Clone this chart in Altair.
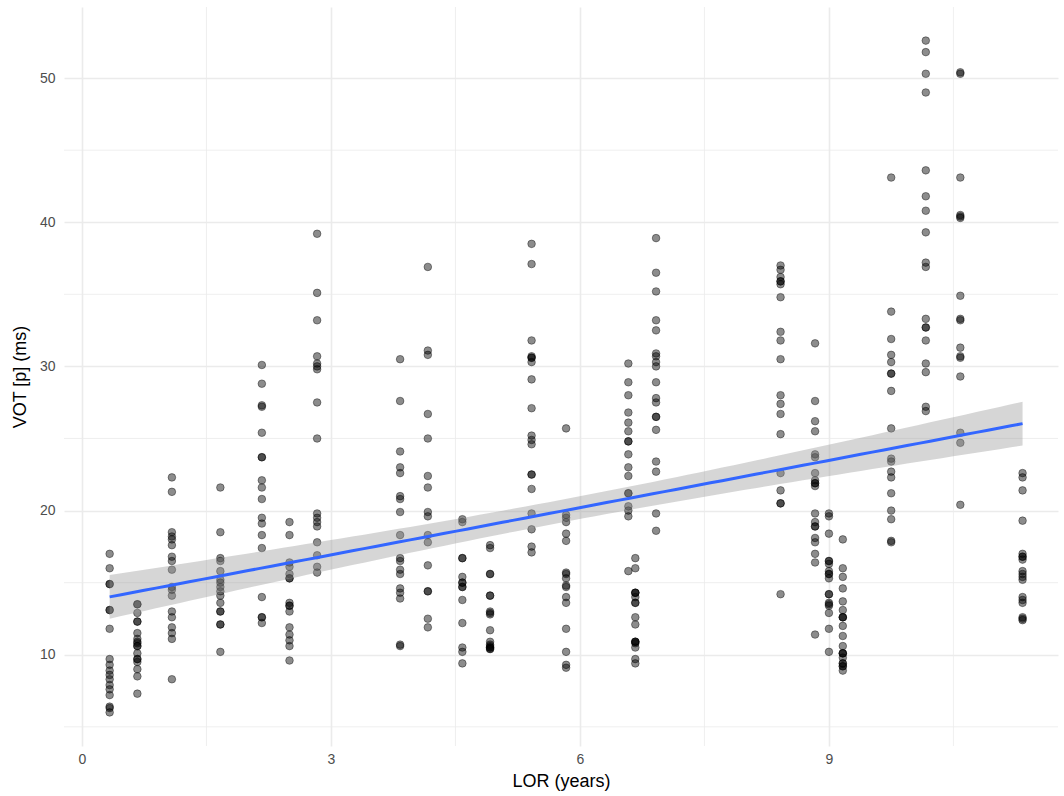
import numpy as np
import pandas as pd
import altair as alt

# LOR (years) of each group of speakers and their VOT [p] values (ms)
lor_levels = [0.333, 0.667, 1.083, 1.667, 2.167, 2.5, 2.833, 3.833, 4.167, 4.583,
              4.917, 5.417, 5.833, 6.583, 6.667, 6.917, 8.417, 8.833, 9.0, 9.167,
              9.75, 10.167, 10.583, 11.333]

vot_g01 = [17.0, 16.0, 14.9, 14.9, 13.1, 13.1, 11.8, 9.7, 9.3, 8.9, 8.6, 8.3, 7.9, 7.6, 7.2, 6.4, 6.3, 6.0]
vot_g02 = [13.5, 13.5, 12.9, 12.3, 12.3, 11.5, 11.1, 10.9, 10.8, 10.6, 10.6, 10.1, 9.7, 9.7, 9.5, 9.0, 8.5, 7.3]
vot_g03 = [22.3, 21.3, 18.5, 18.2, 18.0, 17.6, 16.8, 16.5, 15.9, 14.7, 14.5, 14.1, 13.0, 12.6, 11.9, 11.5, 11.1, 8.3]
vot_g04 = [21.6, 18.5, 16.7, 16.5, 15.8, 15.2, 15.0, 14.7, 14.4, 14.1, 13.6, 13.0, 13.0, 12.1, 12.1, 10.2]
vot_g05 = [30.1, 28.8, 27.3, 27.2, 25.4, 23.7, 23.7, 22.1, 21.6, 20.8, 19.5, 19.1, 18.3, 17.4, 14.0, 12.6, 12.6, 12.2]
vot_g06 = [19.2, 18.3, 16.4, 16.1, 15.6, 15.3, 15.3, 13.6, 13.4, 13.4, 13.0, 11.9, 11.4, 11.0, 10.6, 9.6]
vot_g07 = [39.2, 35.1, 33.2, 30.7, 30.2, 30.0, 29.8, 27.5, 25.0, 19.8, 19.5, 19.2, 18.9, 17.8, 16.9, 16.1, 15.7]
vot_g08 = [30.5, 27.6, 24.1, 23.0, 22.6, 21.0, 20.8, 19.9, 18.3, 16.7, 16.5, 15.9, 15.6, 14.6, 14.3, 13.9, 10.7, 10.6]
vot_g09 = [36.9, 31.1, 30.8, 26.7, 25.0, 22.4, 21.6, 19.9, 19.6, 18.3, 17.8, 16.2, 14.4, 14.4, 12.5, 11.9]
vot_g10 = [19.4, 19.2, 16.7, 16.7, 15.4, 15.0, 15.0, 14.7, 14.7, 13.8, 12.2, 10.5, 10.2, 9.4]
vot_g11 = [17.6, 17.4, 15.6, 15.6, 14.1, 14.1, 13.0, 12.9, 12.8, 11.7, 10.9, 10.7, 10.6, 10.5, 10.5, 10.4, 10.4]
vot_g12 = [38.5, 37.1, 31.8, 30.7, 30.6, 30.6, 30.3, 29.1, 27.1, 25.2, 24.9, 24.6, 22.5, 22.5, 21.5, 19.8, 18.7, 17.5, 17.1]
vot_g13 = [25.7, 19.7, 19.5, 19.2, 18.4, 17.9, 15.7, 15.6, 15.3, 14.8, 14.7, 14.0, 13.6, 11.8, 10.2, 9.3, 9.1]
vot_g14 = [30.2, 28.9, 28.0, 26.8, 26.1, 25.5, 24.8, 24.8, 23.9, 23.0, 22.4, 21.2, 21.2, 20.3, 20.0, 19.6, 15.8]
vot_g15 = [16.7, 16.0, 14.3, 14.3, 14.3, 14.0, 13.6, 13.6, 12.6, 12.1, 10.9, 10.9, 10.9, 10.8, 10.5, 9.7, 9.4]
vot_g16 = [38.9, 36.5, 35.2, 33.2, 32.5, 30.9, 30.7, 30.3, 30.0, 28.9, 27.8, 27.5, 26.5, 26.5, 25.6, 23.4, 22.7, 19.8, 18.6]
vot_g17 = [37.0, 36.7, 36.2, 35.9, 35.9, 35.7, 34.8, 32.4, 31.8, 30.5, 28.0, 27.4, 26.7, 25.3, 22.6, 21.4, 20.5, 20.5, 14.2]
vot_g18 = [31.6, 27.6, 26.2, 25.5, 23.9, 23.7, 22.6, 22.1, 21.9, 21.9, 21.7, 19.8, 19.2, 18.9, 18.9, 18.1, 17.8, 17.0, 16.4, 11.4]
vot_g19 = [19.8, 19.6, 18.4, 16.5, 16.5, 16.3, 15.8, 15.6, 15.6, 15.3, 14.2, 14.2, 13.6, 13.5, 13.4, 12.9, 11.8, 10.2]
vot_g20 = [18.0, 16.0, 15.4, 14.6, 13.7, 13.1, 12.6, 12.6, 12.6, 12.0, 11.3, 10.6, 10.1, 10.1, 10.1, 9.8, 9.4, 9.4, 9.2, 9.2, 8.9]
vot_g21 = [43.1, 33.8, 31.9, 30.8, 30.3, 29.5, 29.5, 28.3, 25.7, 23.6, 23.4, 22.7, 22.3, 21.2, 20.0, 19.4, 17.9, 17.8]
vot_g22 = [52.6, 51.8, 50.3, 49.0, 43.6, 41.8, 40.8, 39.3, 37.2, 36.9, 33.3, 32.7, 32.7, 31.8, 30.2, 29.6, 27.2, 26.9]
vot_g23 = [50.4, 50.3, 43.1, 40.5, 40.4, 40.3, 34.9, 33.3, 33.2, 31.3, 30.7, 30.6, 29.3, 25.4, 24.7, 20.4]
vot_g24 = [22.6, 22.3, 21.4, 19.3, 17.0, 16.8, 16.8, 16.6, 15.8, 15.6, 15.4, 15.2, 14.0, 13.8, 13.6, 12.6, 12.5, 12.4]

vot_groups = [vot_g01, vot_g02, vot_g03, vot_g04, vot_g05, vot_g06, vot_g07, vot_g08,
              vot_g09, vot_g10, vot_g11, vot_g12, vot_g13, vot_g14, vot_g15, vot_g16,
              vot_g17, vot_g18, vot_g19, vot_g20, vot_g21, vot_g22, vot_g23, vot_g24]

x_ticks = [0, 3, 6, 9]
x_minor = [1.5, 4.5, 7.5, 10.5]
y_ticks = [10, 20, 30, 40, 50]
y_minor = [5, 15, 25, 35, 45]

lor_col, vot_col = [], []
for lv, grp in zip(lor_levels, vot_groups):
    for v in grp:
        lor_col.append(lv)
        vot_col.append(v)
df = pd.DataFrame({"lor": lor_col, "vot": vot_col})

# linear model with 95% confidence band (like geom_smooth(method = "lm"))
X = df["lor"].to_numpy()
Y = df["vot"].to_numpy()
n = len(X)
b1, b0 = np.polyfit(X, Y, 1)
resid = Y - (b0 + b1 * X)
s = np.sqrt(np.sum(resid ** 2) / (n - 2))
xbar = X.mean()
sxx = np.sum((X - xbar) ** 2)
xs = np.linspace(X.min(), X.max(), 80)
fit = b0 + b1 * xs
se = s * np.sqrt(1.0 / n + (xs - xbar) ** 2 / sxx)
tq = 1.966
fit_df = pd.DataFrame({"lor": xs, "fit": fit, "lo": fit - tq * se, "hi": fit + tq * se})

x_pad = 0.05 * (X.max() - X.min())
y_pad = 0.05 * (Y.max() - Y.min())
# the right end of the panel is cut by the picture edge
x_dom = [X.min() - x_pad, 11.76]
y_dom = [Y.min() - y_pad, Y.max() + y_pad]

xs_scale = alt.Scale(domain=x_dom, nice=False, zero=False)
ys_scale = alt.Scale(domain=y_dom, nice=False, zero=False)

GRID = "#EBEBEB"
FONT = "Liberation Sans"

x_axis = alt.Axis(values=x_ticks, title="LOR (years)", grid=True, gridColor=GRID, gridWidth=1.6,
                  domain=False, ticks=False, labelColor="#4D4D4D", labelFontSize=14, labelFont=FONT,
                  labelPadding=6, titleFont=FONT, titleFontSize=18, titleFontWeight="normal",
                  titleColor="#000000", titlePadding=6)
y_axis = alt.Axis(values=y_ticks, title="VOT [p] (ms)", grid=True, gridColor=GRID, gridWidth=1.6,
                  domain=False, ticks=False, labelColor="#4D4D4D", labelFontSize=14, labelFont=FONT,
                  labelPadding=9, titleFont=FONT, titleFontSize=18, titleFontWeight="normal",
                  titleColor="#000000", titlePadding=10)

minor_x = alt.Chart(pd.DataFrame({"v": x_minor})).mark_rule(color=GRID, strokeWidth=0.8).encode(
    x=alt.X("v:Q", scale=xs_scale, axis=x_axis))
minor_y = alt.Chart(pd.DataFrame({"v": y_minor})).mark_rule(color=GRID, strokeWidth=0.8).encode(
    y=alt.Y("v:Q", scale=ys_scale, axis=y_axis))

points = alt.Chart(df).mark_point(filled=True, size=58, fill="#000000", fillOpacity=0.45,
                                  stroke="#000000", strokeOpacity=0.45, strokeWidth=0.9).encode(
    x=alt.X("lor:Q", scale=xs_scale, axis=x_axis),
    y=alt.Y("vot:Q", scale=ys_scale, axis=y_axis),
)

band = alt.Chart(fit_df).mark_area(color="#999999", opacity=0.4).encode(
    x=alt.X("lor:Q", scale=xs_scale, axis=x_axis),
    y=alt.Y("lo:Q", scale=ys_scale, axis=y_axis),
    y2="hi:Q",
)
line = alt.Chart(fit_df).mark_line(color="#3366FF", strokeWidth=3).encode(
    x=alt.X("lor:Q", scale=xs_scale, axis=x_axis),
    y=alt.Y("fit:Q", scale=ys_scale, axis=y_axis),
)

chart = alt.layer(minor_x, minor_y, points, band, line).properties(
    width=994, height=739,
    background="white",
    autosize=alt.AutoSizeParams(type="none"),
    padding={"left": 64, "top": 7, "right": 6, "bottom": 50},
).configure_view(strokeWidth=0)

chart.save("out.html", embed_options={"renderer": "svg", "actions": False})
